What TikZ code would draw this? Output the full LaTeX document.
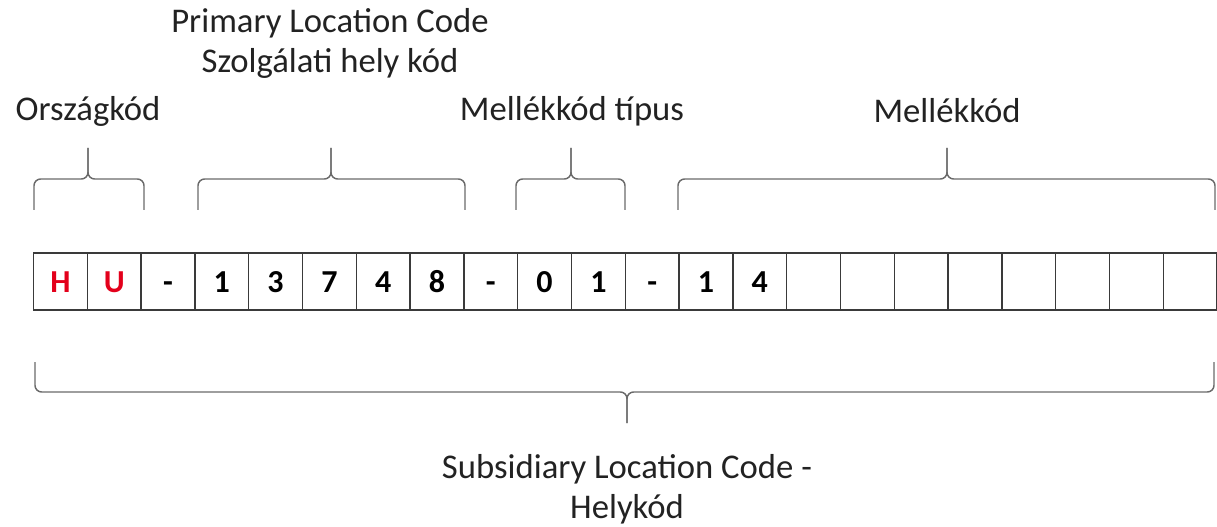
\documentclass[tikz,border=0pt]{standalone}
\usepackage{fontspec}
\setmainfont{Carlito}
\definecolor{codered}{HTML}{E3001B}
\definecolor{cellline}{HTML}{3A3A3A}
\definecolor{braceline}{HTML}{6A6A6A}
\definecolor{labeltext}{HTML}{222222}
\begin{document}
\begin{tikzpicture}[
    x=0.75pt, y=-0.75pt,
    cellbox/.style={rectangle, draw=cellline, line width=1.1pt, minimum width=40.35pt, minimum height=42.75pt, inner sep=0pt, text height=16pt, text depth=0pt, font=\fontsize{24}{24}\selectfont\bfseries},
    labelnode/.style={align=center, text=labeltext, inner sep=0pt, font=\fontsize{26}{30}\selectfont},
    bracepath/.style={draw=braceline, line width=1.1pt, rounded corners=5pt}
]
\useasboundingbox (0,0) rectangle (1217,527);

\node[cellbox, text=codered](c0) at (60.4, 281.5) {H};
\node[cellbox, text=codered](c1) at (114.2, 281.5) {U};
\node[cellbox](c2) at (168.0, 281.5) {-};
\node[cellbox](c3) at (221.8, 281.5) {1};
\node[cellbox](c4) at (275.6, 281.5) {3};
\node[cellbox](c5) at (329.4, 281.5) {7};
\node[cellbox](c6) at (383.2, 281.5) {4};
\node[cellbox](c7) at (437.0, 281.5) {8};
\node[cellbox](c8) at (490.8, 281.5) {-};
\node[cellbox](c9) at (544.6, 281.5) {0};
\node[cellbox](c10) at (598.4, 281.5) {1};
\node[cellbox](c11) at (652.2, 281.5) {-};
\node[cellbox](c12) at (706.0, 281.5) {1};
\node[cellbox](c13) at (759.8, 281.5) {4};
\node[cellbox](c14) at (813.6, 281.5) {};
\node[cellbox](c15) at (867.4, 281.5) {};
\node[cellbox](c16) at (921.2, 281.5) {};
\node[cellbox](c17) at (975.0, 281.5) {};
\node[cellbox](c18) at (1028.8, 281.5) {};
\node[cellbox](c19) at (1082.6, 281.5) {};
\node[cellbox](c20) at (1136.4, 281.5) {};
\node[cellbox](c21) at (1190.2, 281.5) {};

\node[labelnode](lorszag) at (88, 111) {Országkód};
\node[labelnode](lprimary) at (330, 43) {Primary Location Code\\Szolgálati hely kód};
\node[labelnode](ltipus) at (572, 111) {Mellékkód típus};
\node[labelnode](lmellek) at (947, 111) {Mellékkód};
\node[labelnode](lsub) at (627, 489) {Subsidiary Location Code -\\Helykód};

% braces above the row
\path[bracepath] (34, 210) -- (34, 179) -- (88, 179) -- (88, 148);
\path[bracepath] (144, 210) -- (144, 179) -- (88, 179) -- (88, 148);
\path[bracepath] (198, 210) -- (198, 179) -- (331, 179) -- (331, 148);
\path[bracepath] (465, 210) -- (465, 179) -- (331, 179) -- (331, 148);
\path[bracepath] (516, 210) -- (516, 179) -- (571, 179) -- (571, 148);
\path[bracepath] (625, 210) -- (625, 179) -- (571, 179) -- (571, 148);
\path[bracepath] (678, 210) -- (678, 179) -- (947, 179) -- (947, 148);
\path[bracepath] (1215, 210) -- (1215, 179) -- (947, 179) -- (947, 148);

% brace below the row
\path[bracepath] (35, 362) -- (35, 392) -- (627, 392) -- (627, 423);
\path[bracepath] (1214, 362) -- (1214, 392) -- (627, 392) -- (627, 423);
\end{tikzpicture}
\end{document}
